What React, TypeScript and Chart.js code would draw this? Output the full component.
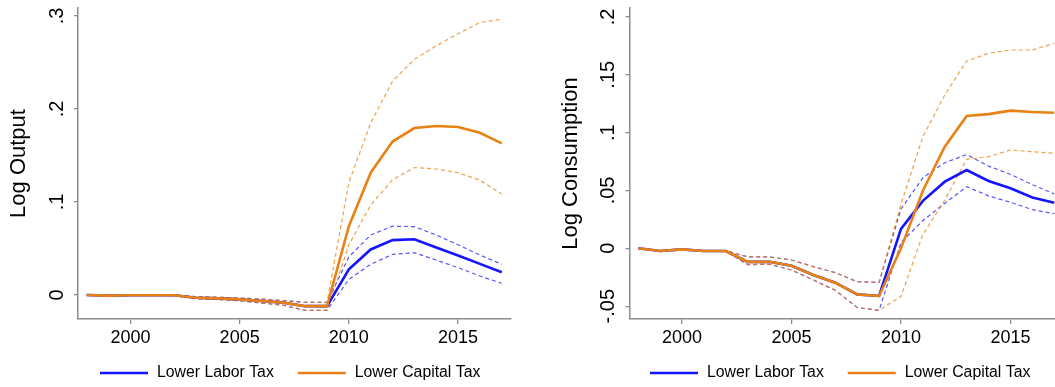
import React, { useEffect, useRef } from 'react';
import { Chart, registerables } from 'chart.js';

Chart.register(...registerables);

const FONT = "'Liberation Sans', Arial, Helvetica, sans-serif";

const years = [1998, 1999, 2000, 2001, 2002, 2003, 2004, 2005, 2006, 2007, 2008, 2009, 2010, 2011, 2012, 2013, 2014, 2015, 2016, 2017];

const seriesNames = ['Lower Labor Tax', 'Lower Capital Tax'];

// Log Output panel
const outputLaborMean = [0, -0.0007, -0.0003, -0.0003, -0.0003, -0.0029, -0.0036, -0.0047, -0.0065, -0.0082, -0.012, -0.012, 0.0276, 0.049, 0.059, 0.06, 0.051, 0.0425, 0.0335, 0.0245];
const outputLaborUpper = [0, -0.0005, 0, -0.0002, -0.0002, -0.0018, -0.0024, -0.0032, -0.0045, -0.006, -0.008, -0.008, 0.041, 0.0645, 0.074, 0.0735, 0.0645, 0.054, 0.043, 0.033];
const outputLaborLower = [0, -0.0009, -0.0005, -0.0005, -0.0005, -0.004, -0.0048, -0.0062, -0.0087, -0.011, -0.0165, -0.0165, 0.0169, 0.033, 0.0437, 0.0455, 0.0376, 0.0294, 0.0204, 0.0126];
const outputCapitalMean = [0, -0.0007, -0.0003, -0.0003, -0.0003, -0.0029, -0.0036, -0.0047, -0.0065, -0.0082, -0.012, -0.012, 0.074, 0.1315, 0.165, 0.1795, 0.1817, 0.1806, 0.1745, 0.163];
const outputCapitalUpper = [0, -0.0005, 0, -0.0002, -0.0002, -0.0018, -0.0024, -0.0032, -0.0045, -0.006, -0.008, -0.008, 0.121, 0.185, 0.23, 0.2534, 0.268, 0.281, 0.293, 0.2966];
const outputCapitalLower = [0, -0.0009, -0.0005, -0.0005, -0.0005, -0.004, -0.0048, -0.0062, -0.0087, -0.011, -0.0165, -0.0165, 0.054, 0.0968, 0.124, 0.137, 0.1355, 0.1315, 0.1235, 0.1086];

// Log Consumption panel
const consLaborMean = [0, -0.0023, -0.0009, -0.0023, -0.0023, -0.0117, -0.0116, -0.0151, -0.0231, -0.0297, -0.0398, -0.0412, 0.0168, 0.041, 0.0576, 0.0677, 0.0582, 0.0519, 0.044, 0.0394];
const consLaborUpper = [0, -0.0021, -0.0007, -0.0021, -0.0021, -0.0074, -0.0075, -0.0101, -0.0159, -0.021, -0.0289, -0.0295, 0.034, 0.061, 0.074, 0.081, 0.071, 0.064, 0.055, 0.047];
const consLaborLower = [0, -0.0025, -0.0011, -0.0025, -0.0025, -0.0141, -0.0138, -0.0188, -0.0274, -0.0363, -0.0512, -0.0536, 0.005, 0.024, 0.0389, 0.0532, 0.0453, 0.0398, 0.0334, 0.0299];
const consCapitalMean = [0, -0.0023, -0.0009, -0.0023, -0.0023, -0.0117, -0.0116, -0.0151, -0.0231, -0.0297, -0.0398, -0.0412, 0.0, 0.0498, 0.0878, 0.1143, 0.116, 0.119, 0.1178, 0.1172];
const consCapitalUpper = [0, -0.0021, -0.0007, -0.0021, -0.0021, -0.0074, -0.0075, -0.0101, -0.0159, -0.021, -0.0289, -0.0295, 0.038, 0.0965, 0.1325, 0.1619, 0.1685, 0.1714, 0.1714, 0.1772];
const consCapitalLower = [0, -0.0025, -0.0011, -0.0025, -0.0025, -0.0141, -0.0138, -0.0188, -0.0274, -0.0363, -0.0512, -0.0536, -0.0415, 0.012, 0.0417, 0.0769, 0.0792, 0.085, 0.0835, 0.0821];

const xTickValues = [2000, 2005, 2010, 2015];
const xTickLabels = ['2000', '2005', '2010', '2015'];
const outputYTickValues = [0, 0.1, 0.2, 0.3];
const outputYTickLabels = ['0', '.1', '.2', '.3'];
const consYTickValues = [-0.05, 0, 0.05, 0.1, 0.15, 0.2];
const consYTickLabels = ['-.05', '0', '.05', '.1', '.15', '.2'];

const BLUE = 'rgb(20, 20, 255)';
const ORANGE = 'rgb(232, 130, 20)';
const BLUE_DASH = 'rgba(30, 30, 255, 0.75)';
const ORANGE_DASH = 'rgba(232, 130, 20, 0.75)';
const AXIS = '#8c8c8c';

const toPoints = (vals: number[]) => years.map((y, i) => ({ x: y, y: vals[i] }));

const lookupLabel = (vals: number[], labels: string[]) => (value: number) => {
  const i = vals.findIndex((v) => Math.abs(v - value) < 1e-9);
  return i >= 0 ? labels[i] : '';
};

const stataLegend = {
  id: 'stataLegend',
  afterDraw(chart: any, _args: any, opts: any) {
    const ctx = chart.ctx;
    const { left, bottom } = chart.chartArea;
    let x = left + opts.offsetX;
    const y = bottom + opts.offsetY;
    const items = chart.data.datasets
      .filter((d: any) => d.legendOrder !== undefined)
      .sort((a: any, b: any) => a.legendOrder - b.legendOrder);
    ctx.save();
    ctx.font = `${opts.fontSize}px ${FONT}`;
    ctx.textBaseline = 'middle';
    ctx.textAlign = 'left';
    items.forEach((item: any) => {
      ctx.strokeStyle = item.borderColor;
      ctx.lineWidth = item.borderWidth;
      ctx.beginPath();
      ctx.moveTo(x, y);
      ctx.lineTo(x + opts.lineLength, y);
      ctx.stroke();
      x += opts.lineLength + opts.textGap;
      ctx.fillStyle = '#000';
      ctx.fillText(item.label, x, y);
      x += ctx.measureText(item.label).width + opts.itemGap;
    });
    ctx.restore();
  },
};

type PanelSpec = {
  title: string;
  laborMean: number[];
  laborUpper: number[];
  laborLower: number[];
  capitalMean: number[];
  capitalUpper: number[];
  capitalLower: number[];
  yMin: number;
  yMax: number;
  yTickValues: number[];
  yTickLabels: string[];
  yScaleWidth: number;
  yTickPadding: number;
  titlePadding: number;
  rightPadding: number;
  legendOffsetX: number;
};

function buildConfig(p: PanelSpec): any {
  const dashed = { borderWidth: 1.2, borderDash: [4, 3], pointRadius: 0, tension: 0, fill: false };
  const solid = { borderWidth: 2.6, pointRadius: 0, tension: 0, fill: false };
  return {
    type: 'line',
    data: {
      datasets: [
        { label: seriesNames[1], data: toPoints(p.capitalMean), borderColor: ORANGE, order: 0, legendOrder: 1, ...solid },
        { label: seriesNames[0], data: toPoints(p.laborMean), borderColor: BLUE, order: 1, legendOrder: 0, ...solid },
        { label: seriesNames[1] + ' upper', data: toPoints(p.capitalUpper), borderColor: ORANGE_DASH, order: 2, ...dashed },
        { label: seriesNames[1] + ' lower', data: toPoints(p.capitalLower), borderColor: ORANGE_DASH, order: 2, ...dashed },
        { label: seriesNames[0] + ' upper', data: toPoints(p.laborUpper), borderColor: BLUE_DASH, order: 3, ...dashed },
        { label: seriesNames[0] + ' lower', data: toPoints(p.laborLower), borderColor: BLUE_DASH, order: 3, ...dashed },
      ],
    },
    options: {
      responsive: false,
      animation: false,
      devicePixelRatio: 1,
      layout: { padding: { left: 0, right: p.rightPadding, top: 8, bottom: 0 } },
      plugins: {
        legend: { display: false },
        tooltip: { enabled: false },
        stataLegend: { offsetX: p.legendOffsetX, offsetY: 54, fontSize: 15.8, lineLength: 48, textGap: 9, itemGap: 24 },
      },
      scales: {
        x: {
          type: 'linear',
          min: 1997.6,
          max: 2017.4,
          afterBuildTicks: (scale: any) => {
            scale.ticks = xTickValues.map((v) => ({ value: v }));
          },
          afterFit: (scale: any) => {
            scale.height = 68;
            scale.paddingLeft = 0;
            scale.paddingRight = 0;
          },
          ticks: {
            autoSkip: false,
            maxRotation: 0,
            minRotation: 0,
            padding: 3,
            color: '#000',
            font: { size: 18, family: FONT },
            callback: lookupLabel(xTickValues, xTickLabels),
          },
          grid: { display: true, drawOnChartArea: false, drawTicks: true, tickLength: 5, color: AXIS, lineWidth: 1.3 },
          border: { display: true, color: AXIS, width: 1.5 },
        },
        y: {
          type: 'linear',
          min: p.yMin,
          max: p.yMax,
          afterBuildTicks: (scale: any) => {
            scale.ticks = p.yTickValues.map((v) => ({ value: v }));
          },
          afterFit: (scale: any) => {
            scale.width = p.yScaleWidth;
            scale.paddingTop = 0;
            scale.paddingBottom = 0;
          },
          title: {
            display: true,
            text: p.title,
            color: '#000',
            font: { size: 22, family: FONT },
            padding: { top: p.titlePadding, bottom: 0 },
          },
          ticks: {
            autoSkip: false,
            minRotation: 90,
            maxRotation: 90,
            crossAlign: 'center',
            padding: p.yTickPadding,
            color: '#000',
            font: { size: 20, family: FONT },
            callback: lookupLabel(p.yTickValues, p.yTickLabels),
          },
          grid: { display: true, drawOnChartArea: false, drawTicks: true, tickLength: 4, color: AXIS, lineWidth: 1.3 },
          border: { display: true, color: AXIS, width: 1.5 },
        },
      },
    },
    plugins: [stataLegend],
  };
}

const outputPanel: PanelSpec = {
  title: 'Log Output',
  laborMean: outputLaborMean,
  laborUpper: outputLaborUpper,
  laborLower: outputLaborLower,
  capitalMean: outputCapitalMean,
  capitalUpper: outputCapitalUpper,
  capitalLower: outputCapitalLower,
  yMin: -0.0258,
  yMax: 0.3086,
  yTickValues: outputYTickValues,
  yTickLabels: outputYTickLabels,
  yScaleWidth: 78,
  yTickPadding: 8.2,
  titlePadding: 6,
  rightPadding: 16.5,
  legendOffsetX: 22,
};

const consPanel: PanelSpec = {
  title: 'Log Consumption',
  laborMean: consLaborMean,
  laborUpper: consLaborUpper,
  laborLower: consLaborLower,
  capitalMean: consCapitalMean,
  capitalUpper: consCapitalUpper,
  capitalLower: consCapitalLower,
  yMin: -0.0611,
  yMax: 0.2077,
  yTickValues: consYTickValues,
  yTickLabels: consYTickLabels,
  yScaleWidth: 102.5,
  yTickPadding: -0.7,
  titlePadding: 30.5,
  rightPadding: 0,
  legendOffsetX: 20.5,
};

function Panel({ spec, left, width }: { spec: PanelSpec; left: number; width: number }) {
  const ref = useRef<HTMLCanvasElement | null>(null);
  useEffect(() => {
    if (!ref.current) return;
    const chart = new Chart(ref.current, buildConfig(spec));
    return () => chart.destroy();
  }, [spec]);
  return (
    <canvas
      ref={ref}
      width={width}
      height={387}
      style={{ position: 'absolute', left, top: 0, width, height: 387, display: 'block' }}
    />
  );
}

export default function App() {
  return (
    <div
      style={{
        position: 'absolute',
        left: 0,
        top: 0,
        width: 1055,
        height: 387,
        overflow: 'hidden',
        background: '#fff',
      }}
    >
      <Panel spec={outputPanel} left={0} width={527} />
      <Panel spec={consPanel} left={527} width={536} />
    </div>
  );
}
